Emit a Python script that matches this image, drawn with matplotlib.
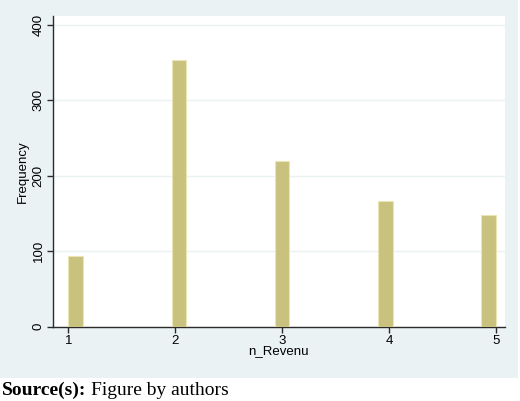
import matplotlib
matplotlib.use("Agg")
import matplotlib.pyplot as plt
from matplotlib.patches import Rectangle

# revenue categories and their counts
categories = [1, 2, 3, 4, 5]
counts = [93, 353, 219, 167, 148]
yticks = [0, 100, 200, 300, 400]

panel_color = '#eaf2f3'
bar_color = '#c9c27e'
edge_color = '#ebe5b5'

plt.rcParams['font.family'] = ['Liberation Sans', 'DejaVu Sans']

fig = plt.figure(figsize=(5.2, 4.01), dpi=100)
fig.patch.set_facecolor('white')

# stata-like outer panel, behind the axes
fig.patches.append(Rectangle((0, 23 / 401), 518 / 520, 378 / 401,
                             transform=fig.transFigure, facecolor=panel_color,
                             edgecolor='none', zorder=-5))

ax = fig.add_axes([53 / 520, 74.5 / 401, 451.5 / 520, 310.5 / 401])
ax.set_zorder(1)
ax.set_facecolor('white')

# histogram with 29 bins over [1, 5], as stata draws it
ax.hist(categories, bins=29, range=(1, 5), weights=counts,
        color=bar_color, edgecolor=edge_color, linewidth=0.8, zorder=3)

ax.set_xlim(0.857, 5.08)
ax.set_ylim(0, 412)
ax.set_yticks(yticks)
ax.set_xticks(categories)
ax.yaxis.grid(True, color=panel_color, linewidth=1.0, zorder=0)
ax.set_axisbelow(True)

for s in ['top', 'right']:
    ax.spines[s].set_visible(False)
for s in ['left', 'bottom']:
    ax.spines[s].set_color('#2b2b2b')
    ax.spines[s].set_linewidth(1.0)

ax.tick_params(axis='both', colors='#2b2b2b', labelcolor='black',
               length=4, width=1.0, labelsize=9.5, pad=2)
for lab in ax.get_yticklabels():
    lab.set_rotation(90)
    lab.set_va('center')

ax.set_xlabel('n_Revenu', fontsize=9.5, labelpad=-1)
ax.set_ylabel('Frequency', fontsize=9.5, labelpad=3)

t1 = fig.text(2 / 520, 6 / 401, 'Source(s):', family='Liberation Serif',
              fontweight='bold', fontsize=14, va='baseline')
fig.canvas.draw()
bb = t1.get_window_extent()
fig.text((bb.x1 + 5) / 520, 6 / 401, 'Figure by authors', family='Liberation Serif',
         fontsize=14, va='baseline')

fig.savefig('out.png', dpi=100, facecolor='white')
